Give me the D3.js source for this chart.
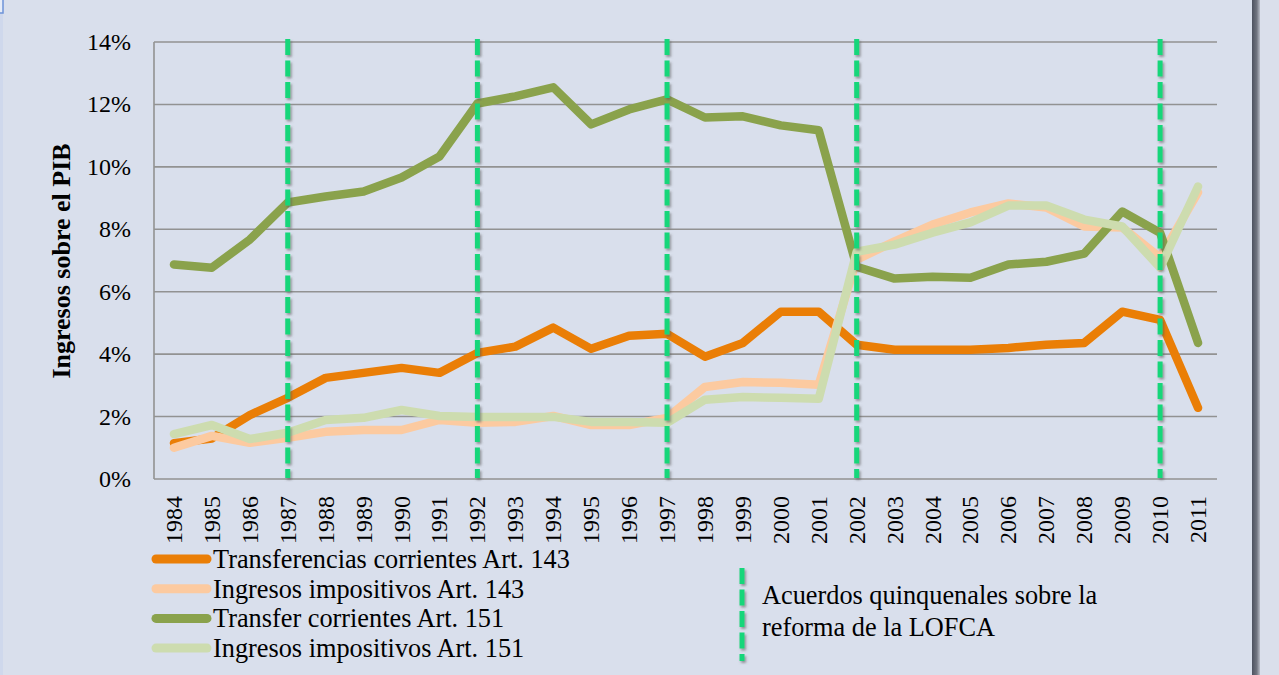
<!DOCTYPE html>
<html>
<head>
<meta charset="utf-8">
<script src="https://cdn.jsdelivr.net/npm/d3@7"></script>
<style>
  html,body{margin:0;padding:0;background:#d9dfec;}
  svg{display:block;font-family:"Liberation Serif","Times New Roman",serif;}
</style>
</head>
<body>
<script>
// years on the category axis
const years=[1984,1985,1986,1987,1988,1989,1990,1991,1992,1993,1994,1995,1996,1997,
  1998,1999,2000,2001,2002,2003,2004,2005,2006,2007,2008,2009,2010,2011];

// % of GDP
const transf143=[1.15,1.3,2.05,2.6,3.24,3.4,3.56,3.4,4.04,4.24,4.85,4.17,4.59,4.65,
  3.92,4.36,5.36,5.36,4.3,4.14,4.14,4.14,4.2,4.3,4.36,5.36,5.1,2.28];
const ingr143=[1.0,1.38,1.16,1.32,1.51,1.57,1.57,1.89,1.8,1.83,2.02,1.73,1.73,1.96,
  2.95,3.11,3.08,3.02,7.03,7.61,8.15,8.54,8.83,8.7,8.09,8.06,7.09,9.18];
const transf151=[6.87,6.77,7.67,8.86,9.05,9.21,9.66,10.33,12.03,12.26,12.55,11.36,11.84,12.16,
  11.58,11.62,11.33,11.17,6.8,6.42,6.48,6.45,6.87,6.96,7.22,8.57,7.89,4.36];
const ingr151=[1.44,1.73,1.28,1.48,1.89,1.96,2.21,2.02,1.99,1.99,1.99,1.83,1.83,1.8,
  2.54,2.63,2.6,2.57,7.28,7.51,7.89,8.22,8.76,8.76,8.31,8.09,6.77,9.37];

const seriesNames=["Transferencias corrientes Art. 143","Ingresos impositivos Art. 143",
  "Transfer corrientes Art. 151","Ingresos impositivos Art. 151"];
const seriesColors=["#ea7e06","#fccaa0","#8aa24c","#cddcaf"];

// LOFCA agreement years
const acuerdos=[1987,1992,1997,2002,2010];
const yTicks=[0,2,4,6,8,10,12,14];
const legendNote=["Acuerdos quinquenales sobre la","reforma de la LOFCA"];

const W=1279,H=675;
const svg=d3.select("body").append("svg").attr("width",W).attr("height",H);

let defs=svg.append("defs");
let f=defs.append("filter").attr("id","sh").attr("filterUnits","userSpaceOnUse")
  .attr("x",0).attr("y",0).attr("width",W).attr("height",H);
f.append("feDropShadow").attr("dx",1.5).attr("dy",2).attr("stdDeviation",1.2)
  .attr("flood-color","#555").attr("flood-opacity",0.55);
let gr=defs.append("linearGradient").attr("id","edge");
gr.append("stop").attr("offset","0%").attr("stop-color","#4d5260");
gr.append("stop").attr("offset","60%").attr("stop-color","#70747f");
gr.append("stop").attr("offset","100%").attr("stop-color","#b9bdc8");

svg.append("rect").attr("width",W).attr("height",H).attr("fill","#d9dfec");
// frame bits
svg.append("rect").attr("x",0).attr("y",0).attr("width",3).attr("height",H).attr("fill","#cfd8ec");
svg.append("rect").attr("x",-2).attr("y",-2).attr("width",5).attr("height",15)
  .attr("fill","#e6ecf8").attr("stroke","#6d93d8").attr("stroke-width",1.5);
svg.append("rect").attr("x",1252).attr("y",0).attr("width",8).attr("height",H).attr("fill","url(#edge)");
svg.append("rect").attr("x",1260).attr("y",0).attr("width",19).attr("height",H).attr("fill","#dadfeb");

const x=d3.scaleBand().domain(years).range([155,1217]);
const xc=d=>x(d)+x.bandwidth()/2;
const y=d3.scaleLinear().domain([0,14]).range([479,42]);

// grid
svg.append("g").selectAll("line").data(yTicks).enter().append("line")
  .attr("x1",154).attr("x2",1217)
  .attr("y1",d=>y(d)).attr("y2",d=>y(d))
  .attr("stroke","#929292").attr("stroke-width",1.6);
svg.append("line").attr("x1",154).attr("x2",154).attr("y1",y(14)).attr("y2",y(0))
  .attr("stroke","#929292").attr("stroke-width",1.6);

// y labels
svg.append("g").selectAll("text").data(yTicks).enter().append("text")
  .attr("x",131).attr("y",d=>y(d)+8)
  .attr("text-anchor","end").attr("font-size",24).attr("fill","#000")
  .text(d=>d+"%");
svg.append("text").attr("transform","translate(70,261) rotate(-90)")
  .attr("text-anchor","middle").attr("font-size",26).attr("font-weight","bold")
  .text("Ingresos sobre el PIB");

// x labels
svg.append("g").selectAll("text").data(years).enter().append("text")
  .attr("transform",d=>"translate("+(xc(d)+8)+",496) rotate(-90)")
  .attr("text-anchor","end").attr("font-size",24)
  .text(d=>d);

// series
const allSeries=[transf143,ingr143,transf151,ingr151];
const line=d3.line().x((d,i)=>xc(years[i])).y(d=>y(d));
svg.append("g").selectAll("path").data(allSeries).enter().append("path")
  .attr("d",d=>line(d)).attr("fill","none")
  .attr("stroke",(d,i)=>seriesColors[i]).attr("stroke-width",8.5)
  .attr("stroke-linejoin","round").attr("stroke-linecap","round");

// agreement lines
svg.append("g").attr("filter","url(#sh)").selectAll("line").data(acuerdos).enter().append("line")
  .attr("x1",d=>xc(d)).attr("x2",d=>xc(d))
  .attr("y1",y(14)-3).attr("y2",y(0)-1)
  .attr("stroke","#12d67a").attr("stroke-width",5).attr("stroke-dasharray","16,5.5");

// legend
let lg=svg.append("g");
seriesNames.forEach((n,i)=>{
  let ly=559+i*29.7;
  lg.append("line").attr("x1",156).attr("x2",207).attr("y1",ly).attr("y2",ly)
    .attr("stroke",seriesColors[i]).attr("stroke-width",9).attr("stroke-linecap","round");
  lg.append("text").attr("x",213).attr("y",ly+9).attr("font-size",26.3).text(n);
});
lg.append("g").attr("filter","url(#sh)").append("line")
  .attr("x1",742).attr("x2",742).attr("y1",568).attr("y2",661)
  .attr("stroke","#12d67a").attr("stroke-width",5).attr("stroke-dasharray","16,5.5");
legendNote.forEach((t,i)=>{
  lg.append("text").attr("x",762).attr("y",604+i*32).attr("font-size",26.3).text(t);
});
</script>
</body>
</html>
